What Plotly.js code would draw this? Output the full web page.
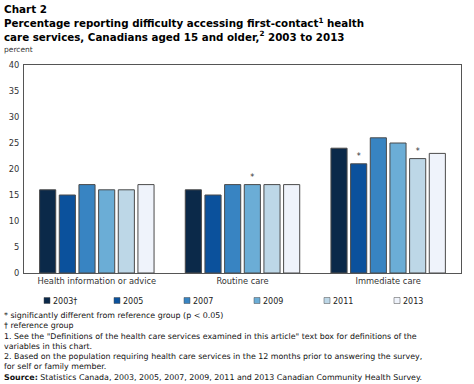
<!DOCTYPE html>
<html><head><meta charset="utf-8">
<script src="https://cdn.plot.ly/plotly-3.0.1.min.js"></script>
<style>body{margin:0;background:#fff}#c{width:474px;height:384px}</style>
</head><body><div id="c"></div>
<script>
const categories = ['Health information or advice', 'Routine care', 'Immediate care'];
const years = ['2003\u2020', '2005', '2007', '2009', '2011', '2013'];
const v2003 = [16, 16, 24];
const v2005 = [15, 15, 21];
const v2007 = [17, 17, 26];
const v2009 = [16, 17, 25];
const v2011 = [16, 17, 22];
const v2013 = [17, 17, 23];
const sig2003 = ['', '', ''];
const sig2005 = ['', '', '*'];
const sig2007 = ['', '', ''];
const sig2009 = ['', '*', ''];
const sig2011 = ['', '', '*'];
const sig2013 = ['', '', ''];
const yTicks = [0, 5, 10, 15, 20, 25, 30, 35, 40];

const series = [v2003, v2005, v2007, v2009, v2011, v2013];
const sigs = [sig2003, sig2005, sig2007, sig2009, sig2011, sig2013];
const colors = ['#0b2949', '#0b519c', '#3884c2', '#6badd6', '#bdd7e7', '#eff3fb'];
const FONT = 'DejaVu Sans, Verdana, sans-serif';

const traces = series.map((s, i) => ({
  type: 'bar', x: categories, y: s, name: years[i],
  marker: {color: colors[i], line: {color: '#4a4a4a', width: 1}},
  text: sigs[i], textposition: 'outside', cliponaxis: false,
  textfont: {family: FONT, size: 8, color: '#333'},
  hoverinfo: 'none'
}));

const W = 474, H = 384, L = 24, R = 13, T = 65, B = 111;
const pw = W - L - R, ph = H - T - B;
const px = x => (x - L) / pw;
const py = y => 1 - (y - T) / ph;

const layout = {
  width: W, height: H,
  margin: {l: L, r: R, t: T, b: B},
  paper_bgcolor: '#fff', plot_bgcolor: '#fff',
  font: {family: FONT, size: 8, color: '#333'},
  barmode: 'group', bargap: 0.19, bargroupgap: 0.18,
  showlegend: true,
  legend: {orientation: 'h', xref: 'container', yref: 'container', x: 13 / W, y: 1 - 286 / H,
    xanchor: 'left', yanchor: 'top',
    entrywidth: 25, entrywidthmode: 'pixels', font: {family: FONT, size: 8, color: '#222'},
    itemclick: false, traceorder: 'normal', tracegroupgap: 0},
  xaxis: {showline: true, linecolor: '#555', linewidth: 1, mirror: true, ticks: '',
    tickfont: {family: FONT, size: 8.3, color: '#333'}, fixedrange: true},
  yaxis: {range: [0, 40], tickvals: yTicks, showgrid: false, zeroline: false,
    showline: true, linecolor: '#555', linewidth: 1, mirror: true, ticks: '', ticklabelstandoff: 2,
    tickfont: {family: FONT, size: 8.3, color: '#333'}, fixedrange: true},
  annotations: [
    {xref: 'paper', yref: 'paper', x: px(2), y: py(1), xanchor: 'left', yanchor: 'top', align: 'left', showarrow: false,
     text: '<b>Chart 2</b>', font: {family: FONT, size: 10.4, color: '#000'}},
    {xref: 'paper', yref: 'paper', x: px(2), y: py(14), xanchor: 'left', yanchor: 'top', align: 'left', showarrow: false,
     text: '<b>Percentage reporting difficulty accessing first-contact<sup>1</sup> health<br>care services, Canadians aged 15 and older,<sup>2</sup> 2003 to 2013</b>',
     font: {family: FONT, size: 10.3, color: '#000'}},
    {xref: 'paper', yref: 'paper', x: px(2), y: py(43), xanchor: 'left', yanchor: 'top', align: 'left', showarrow: false,
     text: 'percent', font: {family: FONT, size: 7.5, color: '#333'}},
    {xref: 'paper', yref: 'paper', x: px(2), y: py(309), xanchor: 'left', yanchor: 'top', align: 'left', showarrow: false,
     text: '* significantly different from reference group (p &lt; 0.05)<br>\u2020 reference group<br>1. See the "Definitions of the health care services examined in this article" text box for definitions of the<br>variables in this chart.<br>2. Based on the population requiring health care services in the 12 months prior to answering the survey,<br>for self or family member.<br><b>Source:</b> Statistics Canada, 2003, 2005, 2007, 2009, 2011 and 2013 Canadian Community Health Survey.',
     font: {family: FONT, size: 7.9, color: '#111'}}
  ]
};

Plotly.newPlot('c', traces, layout, {displayModeBar: false, staticPlot: true}).then(gd => {
  gd.querySelectorAll('.legend .legendpoints path').forEach(p => {
    p.setAttribute('transform', 'translate(34,0) scale(0.5)');
  });
});
</script></body></html>
